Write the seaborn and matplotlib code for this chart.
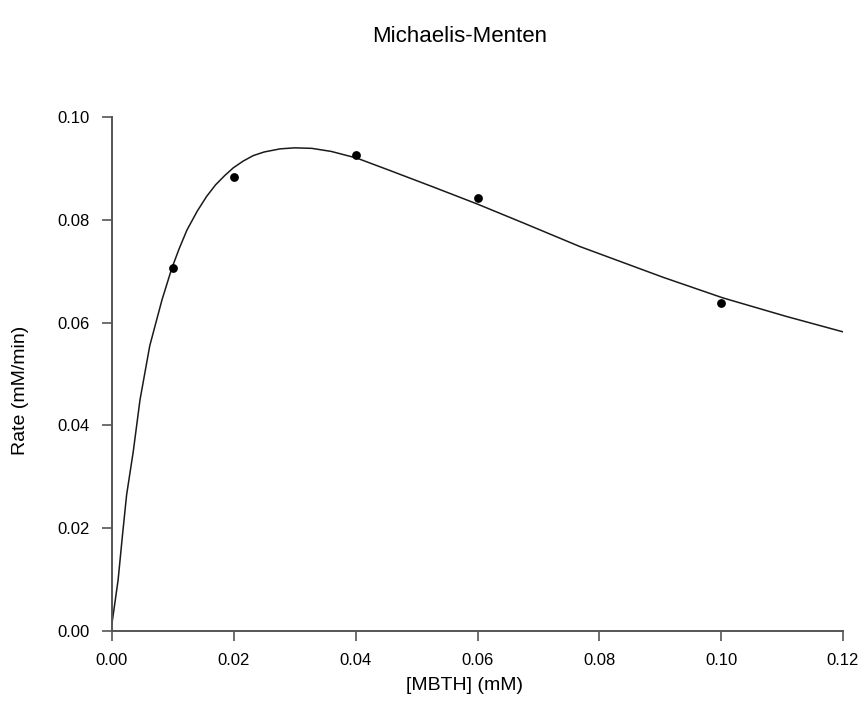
import matplotlib
matplotlib.use("Agg")
import matplotlib.pyplot as plt
import seaborn as sns
import pandas as pd

# Measured data points
conc_mM = [0.01, 0.02, 0.04, 0.06, 0.10]
rate = [0.0707, 0.0883, 0.0926, 0.0842, 0.0638]

# Fitted curve
curve_x = [0.0, 0.001, 0.00175, 0.0024, 0.0035, 0.0046, 0.0062, 0.0082, 0.0098,
           0.0110, 0.0123, 0.0140, 0.0155, 0.0170, 0.0185, 0.0199, 0.0215, 0.0232,
           0.0250, 0.0276, 0.0300, 0.0328, 0.0360, 0.0402, 0.0456,
           0.0527, 0.0599, 0.0675, 0.0768, 0.0905, 0.1003, 0.1107, 0.12]
curve_y = [0.0015, 0.0099, 0.0190, 0.0265, 0.0350, 0.0450, 0.0555, 0.0644, 0.0705,
           0.0743, 0.0780, 0.0817, 0.0845, 0.0868, 0.0886, 0.0901, 0.0914, 0.0925,
           0.0932, 0.0938, 0.0940, 0.0939, 0.0933, 0.0920, 0.0896,
           0.0864, 0.0831, 0.0794, 0.0748, 0.0688, 0.0648, 0.0612, 0.0582]

x_ticks = [0.00, 0.02, 0.04, 0.06, 0.08, 0.10, 0.12]
y_ticks = [0.00, 0.02, 0.04, 0.06, 0.08, 0.10]

sns.set_style("ticks")
plt.rcParams["font.family"] = ["Liberation Sans", "DejaVu Sans"]
plt.rcParams["text.color"] = "black"

fig = plt.figure(figsize=(8.67, 7.18), dpi=100)
ax = fig.add_axes([112 / 867, 1 - 631 / 718, (843 - 112) / 867, (631 - 117) / 718])

curve = pd.DataFrame({"x": curve_x, "y": curve_y})
pts = pd.DataFrame({"x": conc_mM, "y": rate})

sns.lineplot(data=curve, x="x", y="y", ax=ax, color="#1a1a1a", linewidth=1.1,
             sort=False, estimator=None)
sns.scatterplot(data=pts, x="x", y="y", ax=ax, color="black", s=40,
                marker="o", edgecolor="black", linewidth=0, zorder=5)

ax.set_xlim(0, 0.12)
ax.set_ylim(0, 0.10)
ax.set_xticks(x_ticks)
ax.set_yticks(y_ticks)
ax.set_xticklabels([f"{v:.2f}" for v in x_ticks])
ax.set_yticklabels([f"{v:.2f}" for v in y_ticks])

for side in ["top", "right"]:
    ax.spines[side].set_visible(False)
for side in ["left", "bottom"]:
    ax.spines[side].set_color("#555555")
    ax.spines[side].set_linewidth(1.4)

ax.tick_params(axis="both", direction="out", length=7, width=1.2, color="#555555",
               labelsize=12, labelcolor="black", pad=9)

ax.set_xlabel("")
ax.set_ylabel("")
fig.text(465 / 867, 1 - 686 / 718, "[MBTH] (mM)", ha="center", va="center",
         fontsize=14, color="black")
fig.text(21 / 867, 1 - 390 / 718, "Rate (mM/min)", ha="center", va="center",
         rotation=90, fontsize=14, color="black")
fig.text(460 / 867, 1 - 36 / 718, "Michaelis-Menten", ha="center", va="center",
         fontsize=16, color="black")

fig.savefig("out.png", dpi=100, facecolor="white")
